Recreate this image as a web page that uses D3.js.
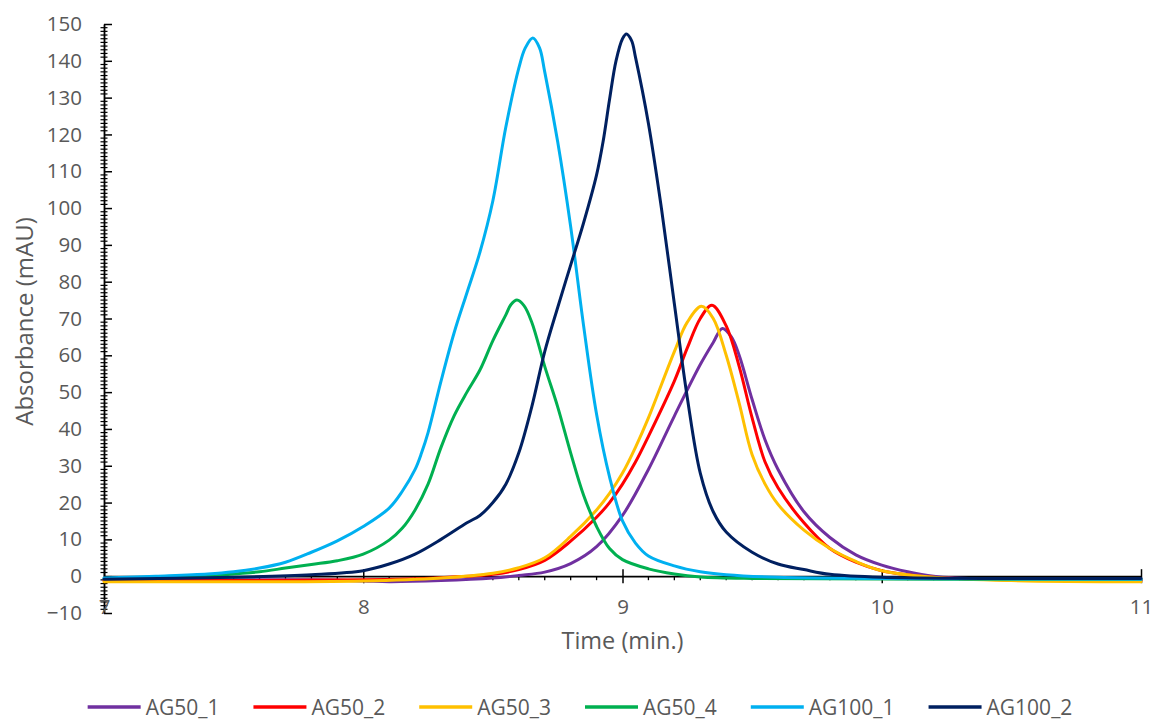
<!DOCTYPE html>
<html>
<head>
<meta charset="utf-8">
<script src="https://cdn.jsdelivr.net/npm/d3@7"></script>
<style>
  html, body { margin: 0; padding: 0; background: #ffffff; }
  svg { display: block; }
  text { font-family: "Open Sans", "Noto Sans", sans-serif; fill: #595959; }
</style>
</head>
<body>
<svg id="chart" width="1154" height="722"></svg>
<script>
// Chromatogram traces: retention time (min) and absorbance (mAU)
const seriesNames = ["AG50_1", "AG50_2", "AG50_3", "AG50_4", "AG100_1", "AG100_2"];
const seriesColors = ["#7030A0", "#FF0000", "#FFC000", "#00B050", "#00B0F0", "#002060"];

const timeAG50_1 = [7.0, 7.8, 8.0, 8.1, 8.3, 8.5, 8.6, 8.7, 8.8, 8.9, 9.0, 9.1, 9.2, 9.3, 9.35, 9.385, 9.42, 9.45, 9.5, 9.55, 9.6, 9.7, 9.8, 9.9, 10.0, 10.1, 10.2, 10.4, 11.0];
const absAG50_1  = [-1.0, -1.0, -1.3, -1.5, -1.2, -0.5, 0.2, 1.1, 3.4, 8.0, 16.5, 29, 43.5, 57.5, 63.5, 67.3, 65, 60, 48, 37, 29, 17.5, 10.5, 5.8, 3.0, 1.2, 0, -0.8, -1.0];

const timeAG50_2 = [7.0, 8.0, 8.3, 8.5, 8.6, 8.7, 8.8, 8.9, 8.95, 9.0, 9.05, 9.1, 9.2, 9.25, 9.3, 9.345, 9.4, 9.45, 9.5, 9.55, 9.6, 9.7, 9.8, 9.9, 10.0, 10.2, 10.5, 11.0];
const absAG50_2  = [-1.2, -1.0, -0.4, 0.5, 1.8, 4.3, 9.5, 16, 20, 25, 31, 38, 53, 62, 70, 73.6, 68, 57, 43, 31, 24, 14.5, 7.5, 3.8, 1.5, -0.3, -1.0, -1.2];

const timeAG50_3 = [7.0, 8.0, 8.3, 8.5, 8.6, 8.7, 8.8, 8.9, 8.95, 9.0, 9.05, 9.1, 9.2, 9.25, 9.305, 9.35, 9.4, 9.45, 9.5, 9.55, 9.6, 9.7, 9.8, 9.9, 10.0, 10.2, 10.5, 11.0];
const absAG50_3  = [-1.5, -1.3, -0.5, 0.8, 2.3, 5.0, 10.8, 18, 22.5, 28, 35, 43, 61, 69, 73.3, 70, 60, 47, 33, 25, 19.5, 12.5, 7.5, 4.0, 1.5, -0.3, -1.2, -1.5];

const timeAG50_4 = [7.0, 7.4, 7.5, 7.6, 7.7, 7.8, 7.9, 8.0, 8.1, 8.15, 8.2, 8.25, 8.3, 8.35, 8.4, 8.45, 8.5, 8.55, 8.57, 8.593, 8.62, 8.65, 8.7, 8.75, 8.8, 8.85, 8.9, 8.95, 9.0, 9.1, 9.2, 9.3, 9.5, 11.0];
const absAG50_4  = [-0.6, 0, 0.6, 1.2, 2.2, 3.2, 4.2, 6.0, 9.8, 13, 18, 25, 35, 43.5, 50, 56, 64, 71, 73.8, 75, 73.5, 69, 57, 46, 33.5, 22, 13.5, 7.5, 4.5, 2.0, 0.6, -0.2, -0.6, -0.8];

const timeAG100_1 = [7.0, 7.2, 7.4, 7.5, 7.6, 7.7, 7.8, 7.9, 8.0, 8.1, 8.15, 8.2, 8.225, 8.25, 8.3, 8.35, 8.4, 8.45, 8.5, 8.55, 8.6, 8.625, 8.654, 8.68, 8.7, 8.75, 8.8, 8.85, 8.9, 8.95, 9.0, 9.05, 9.1, 9.2, 9.3, 9.4, 9.6, 10.0, 11.0];
const absAG100_1  = [-0.5, 0, 0.6, 1.2, 2.2, 3.8, 6.5, 9.6, 13.5, 18.5, 23, 29, 33.5, 39, 53, 66, 77, 88, 102, 122, 138, 143.5, 146.2, 143.5, 137, 118, 95, 68, 44, 27, 15, 9, 5.5, 2.8, 1.2, 0.4, -0.3, -0.6, -0.8];

const timeAG100_2 = [7.0, 7.5, 7.8, 8.0, 8.1, 8.2, 8.3, 8.4, 8.45, 8.5, 8.55, 8.6, 8.65, 8.7, 8.75, 8.8, 8.85, 8.9, 8.925, 8.95, 8.975, 9.0, 9.015, 9.035, 9.05, 9.1, 9.15, 9.2, 9.25, 9.3, 9.35, 9.4, 9.5, 9.6, 9.7, 9.8, 10.0, 11.0];
const absAG100_2  = [-0.8, -0.3, 0.4, 1.5, 3.3, 6.0, 10, 14.5, 16.5, 20, 25, 33.5, 46, 61, 73, 84.5, 96, 109, 118, 129.5, 140, 146, 147.3, 145.5, 141, 123, 100, 74, 48.5, 28, 17.5, 12, 6.5, 3.3, 1.8, 0.5, -0.3, -0.6];

const seriesTimes = [timeAG50_1, timeAG50_2, timeAG50_3, timeAG50_4, timeAG100_1, timeAG100_2];
const seriesValues = [absAG50_1, absAG50_2, absAG50_3, absAG50_4, absAG100_1, absAG100_2];

// Axis ticks
const xTicks = [7, 8, 9, 10, 11];
const xMinorTicks = d3.range(70, 111).map(d => d / 10);
const yTicks = d3.range(-10, 151, 10);
const yMinorTicks = d3.range(-10, 151, 1);

const xTitle = "Time (min.)";
const yTitle = "Absorbance (mAU)";

const svg = d3.select("#chart");

const x = d3.scaleLinear().domain([7, 11]).range([104, 1141]);
const y = d3.scaleLinear().domain([-10, 150]).range([613, 24]);

const axisColor = "#000000";

// ---- Y axis ----
const yAxisG = svg.append("g").attr("transform", `translate(${x(7)},0)`);
yAxisG.call(
  d3.axisLeft(y).tickValues(yTicks).tickSizeInner(8).tickSizeOuter(0)
    .tickPadding(14).tickFormat(d3.format("d"))
);
yAxisG.select(".domain").attr("stroke", axisColor).attr("stroke-width", 1.8);
yAxisG.selectAll(".tick line").attr("stroke", axisColor).attr("stroke-width", 1.5).attr("x2", 8);
yAxisG.selectAll(".tick text").style("font-size", "20.5px").attr("fill", "#595959");
yAxisG.selectAll(".minor")
  .data(yMinorTicks.filter(v => v % 10 !== 0))
  .enter().append("line")
  .attr("x1", -3.5).attr("x2", 3.5)
  .attr("y1", d => y(d)).attr("y2", d => y(d))
  .attr("stroke", axisColor).attr("stroke-width", 1.2);

// ---- X axis, crossing at y = 0 ----
const xAxisG = svg.append("g").attr("transform", `translate(0,${y(0)})`);
xAxisG.call(
  d3.axisBottom(x).tickValues(xTicks).tickSizeInner(7).tickSizeOuter(0)
    .tickPadding(16.5).tickFormat(d3.format("d"))
);
xAxisG.select(".domain").attr("stroke", axisColor).attr("stroke-width", 1.8);
xAxisG.selectAll(".tick line").attr("stroke", axisColor).attr("stroke-width", 1.5).attr("y1", -7);
xAxisG.selectAll(".tick text").style("font-size", "20.5px").attr("fill", "#595959");
xAxisG.selectAll(".minor")
  .data(xMinorTicks.filter(t => !xTicks.includes(Math.round(t * 10) / 10)))
  .enter().append("line")
  .attr("x1", d => x(d)).attr("x2", d => x(d))
  .attr("y1", 0).attr("y2", 4)
  .attr("stroke", axisColor).attr("stroke-width", 1.3);

// ---- Axis titles ----
svg.append("text")
  .attr("transform", `translate(33,${(y(150) + y(-10)) / 2 + 3}) rotate(-90)`)
  .attr("text-anchor", "middle")
  .style("font-size", "24px")
  .text(yTitle);

svg.append("text")
  .attr("x", (x(7) + x(11)) / 2)
  .attr("y", 649)
  .attr("text-anchor", "middle")
  .style("font-size", "23.5px")
  .text(xTitle);

// ---- Traces ----
const line = d3.line()
  .x(d => x(d[0]))
  .y(d => y(d[1]))
  .curve(d3.curveCatmullRom.alpha(0.5));

const traces = seriesNames.map((name, i) => ({
  name,
  color: seriesColors[i],
  points: seriesTimes[i].map((t, j) => [t, seriesValues[i][j]])
}));

svg.append("g").selectAll("path")
  .data(traces)
  .enter().append("path")
  .attr("d", d => line(d.points))
  .attr("fill", "none")
  .attr("stroke", d => d.color)
  .attr("stroke-width", 3)
  .attr("stroke-linejoin", "round")
  .attr("stroke-linecap", "round");

// ---- Legend ----
const legendY = 707;
const legendLine = 53;
const legendGap = 5;
const legendSpacing = 34;
const legendG = svg.append("g");
const items = legendG.selectAll("g.item").data(traces).enter().append("g").attr("class", "item");
items.append("line")
  .attr("x1", 0).attr("x2", legendLine)
  .attr("y1", 0).attr("y2", 0)
  .attr("stroke", d => d.color).attr("stroke-width", 3.5);
items.append("text")
  .attr("x", legendLine + legendGap)
  .attr("y", 0)
  .attr("dy", "0.36em")
  .style("font-size", "21px")
  .text(d => d.name);

let cursor = 0;
const widths = [];
items.each(function () {
  const w = this.querySelector("text").getComputedTextLength();
  widths.push(legendLine + legendGap + w);
});
const total = d3.sum(widths) + legendSpacing * (widths.length - 1);
cursor = 580 - total / 2;
items.attr("transform", (d, i) => {
  const tx = cursor;
  cursor += widths[i] + legendSpacing;
  return `translate(${tx},${legendY})`;
});
</script>
</body>
</html>
